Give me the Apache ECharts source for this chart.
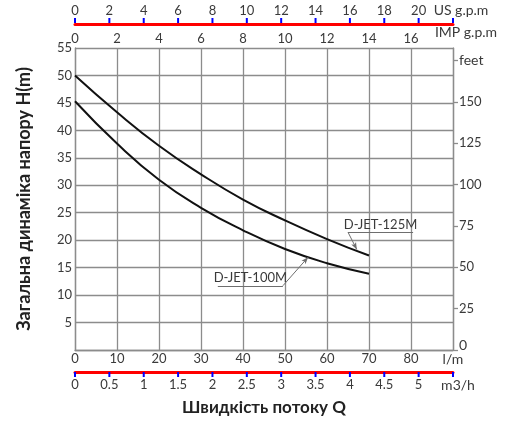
<!DOCTYPE html>
<html>
<head>
<meta charset="utf-8">
<script src="https://cdn.jsdelivr.net/npm/echarts@6/dist/echarts.min.js"></script>
<style>
  html, body { margin: 0; padding: 0; background: #fff; }
  #chart { width: 512px; height: 424px; }
</style>
</head>
<body>
<div id="chart"></div>
<script>
// витрата, л/хв
var flowLpm = [0, 10, 20, 30, 40, 50, 60, 70];
// напір, м
var head125 = [50, 43.3, 37.2, 32.0, 27.4, 23.6, 20.2, 17.2];
var head100 = [45.3, 37.6, 31.0, 25.9, 21.8, 18.4, 15.8, 13.9];
var seriesNames = ['D-JET-125M', 'D-JET-100M'];
// поділки додаткових шкал
var m3hTicks = [0, 0.5, 1, 1.5, 2, 2.5, 3, 3.5, 4, 4.5, 5, 5.5];
var usTicks = [0, 2, 4, 6, 8, 10, 12, 14, 16, 18, 20, 22];
// точки підписів: [початок підкреслення, кінець підкреслення, вістря стрілки]
var label125 = [[65, 21.45], [80.5, 21.45], [67.1, 18.3]];
var label100 = [[34, 11.7], [49.5, 11.7], [55.5, 16.9]];

var gridColor = '#8c8c8c';
var textColor = '#3a3a3a';
var font = 'Lato, "Noto Sans", sans-serif';

function unit(pad) {
    return { fontSize: 14, color: textColor, fontFamily: font, padding: pad };
}

function gridLine() {
    return { color: gridColor, width: 1.3 };
}

// підпис кривої: підкреслення з текстом і стрілка до кривої
function pointer(pts, name, fromEnd) {
    return {
        silent: true,
        symbol: 'none',
        animation: false,
        lineStyle: { color: '#6e6e6e', width: 1, type: 'solid' },
        data: [
            [
                { coord: pts[0], symbol: 'none' },
                {
                    coord: pts[1], symbol: 'none',
                    label: {
                        show: true, formatter: name, position: 'insideMiddleTop',
                        distance: 1, color: textColor, fontSize: 13, fontFamily: font
                    }
                }
            ],
            [
                { coord: fromEnd ? pts[1] : pts[0], symbol: 'none' },
                { coord: pts[2], symbol: 'arrow', symbolSize: [4, 7], label: { show: false } }
            ]
        ]
    };
}

var chart = echarts.init(document.getElementById('chart'));
chart.setOption({
    animation: false,
    textStyle: { fontFamily: font },
    grid: [
        { left: 75, right: 59, top: 48, bottom: 74 },
        { left: 75, right: 59, top: 371, height: 1 },
        { left: 75, right: 59, top: 23, height: 1 }
    ],
    xAxis: [
        {
            gridIndex: 0, type: 'value', min: 0, max: 90, interval: 10,
            axisLine: { show: true, lineStyle: gridLine() },
            axisTick: { show: false },
            splitLine: { show: true, lineStyle: gridLine() },
            axisLabel: {
                color: textColor, fontSize: 13, margin: 2,
                formatter: function (v) { return v === 90 ? '{u|l/m}' : v; },
                rich: { u: unit([0, 0, 0, 0]) }
            }
        },
        {
            gridIndex: 0, type: 'value', position: 'top', min: 0, max: 18, interval: 2,
            axisLine: { show: false }, axisTick: { show: false }, splitLine: { show: false },
            axisLabel: {
                color: textColor, fontSize: 13, margin: 3,
                formatter: function (v) { return v === 18 ? '{u|IMP g.p.m}' : v; },
                rich: { u: unit([0, 0, 6, 26]) }
            }
        },
        {
            gridIndex: 1, type: 'value', min: 0, max: 5.5, interval: 0.5,
            axisLine: { show: true, lineStyle: { color: 'red', width: 3 } },
            axisTick: { show: false },
            splitLine: { show: false },
            axisLabel: {
                color: textColor, fontSize: 13, margin: 6,
                formatter: function (v) { return v === 5.5 ? '{u|m3/h}' : v; },
                rich: { u: unit([0, 0, 0, 10]) }
            },
            name: 'Швидкість потоку Q', nameLocation: 'middle', nameGap: 27,
            nameTextStyle: { fontSize: 17, fontWeight: 'bold', color: '#222' }
        },
        {
            gridIndex: 2, type: 'value', position: 'top', min: 0, max: 22, interval: 2,
            axisLine: { show: true, lineStyle: { color: 'red', width: 3 } },
            axisTick: { show: false },
            splitLine: { show: false },
            axisLabel: {
                color: textColor, fontSize: 13, margin: 6,
                formatter: function (v) { return v === 22 ? '{u|US g.p.m}' : v; },
                rich: { u: unit([0, 0, 0, 16]) }
            }
        }
    ],
    yAxis: [
        {
            gridIndex: 0, type: 'value', min: 0, max: 55, interval: 5,
            axisLine: { show: true, lineStyle: gridLine() },
            axisTick: { show: false },
            splitLine: { show: true, lineStyle: gridLine() },
            axisLabel: {
                color: textColor, fontSize: 13, margin: 3,
                formatter: function (v) { return v === 0 ? '' : v; }
            },
            name: 'Загальна динаміка напору H(m)', nameLocation: 'middle', nameGap: 42,
            nameTextStyle: { fontSize: 18, fontWeight: 'bold', color: '#222' }
        },
        {
            gridIndex: 0, type: 'value', position: 'right', min: 0, max: 182.5, interval: 25,
            axisLine: { show: true, onZero: false, lineStyle: gridLine() },
            axisTick: { show: true, length: 5, lineStyle: gridLine() },
            splitLine: { show: false },
            axisLabel: {
                color: textColor, fontSize: 13, margin: 6,
                formatter: function (v) {
                    if (v === 175) return '{u|feet}';
                    if (v === 0) return '{z|0}';
                    return v;
                },
                rich: { z: unit([0, 0, 10, 0]), u: unit([0, 0, 0, 0]) }
            }
        },
        { gridIndex: 1, type: 'value', min: 0, max: 1, show: false },
        { gridIndex: 2, type: 'value', min: 0, max: 1, show: false }
    ],
    series: [
        {
            name: seriesNames[0], type: 'line', smooth: true, showSymbol: false,
            xAxisIndex: 0, yAxisIndex: 0,
            lineStyle: { color: '#111', width: 2 },
            data: flowLpm.map(function (x, i) { return [x, head125[i]]; }),
            markLine: pointer(label125, seriesNames[0], false)
        },
        {
            name: seriesNames[1], type: 'line', smooth: true, showSymbol: false,
            xAxisIndex: 0, yAxisIndex: 0,
            lineStyle: { color: '#111', width: 2 },
            data: flowLpm.map(function (x, i) { return [x, head100[i]]; }),
            markLine: pointer(label100, seriesNames[1], true)
        }
    ]
});

// поділки шкал m3/h і US g.p.m через перерахунок координат осей
function scaleTicks(xIdx, yIdx, yVal, ticks, dir) {
    var y = chart.convertToPixel({ yAxisIndex: yIdx }, yVal);
    return ticks.map(function (t) {
        var x = chart.convertToPixel({ xAxisIndex: xIdx }, t);
        return {
            type: 'line', silent: true, z: 100,
            shape: { x1: x, y1: y, x2: x, y2: y + dir * 5 },
            style: { stroke: 'blue', lineWidth: 2 }
        };
    });
}

chart.setOption({
    graphic: scaleTicks(2, 2, 0, m3hTicks, 1).concat(scaleTicks(3, 3, 1, usTicks, -1))
});
</script>
</body>
</html>
